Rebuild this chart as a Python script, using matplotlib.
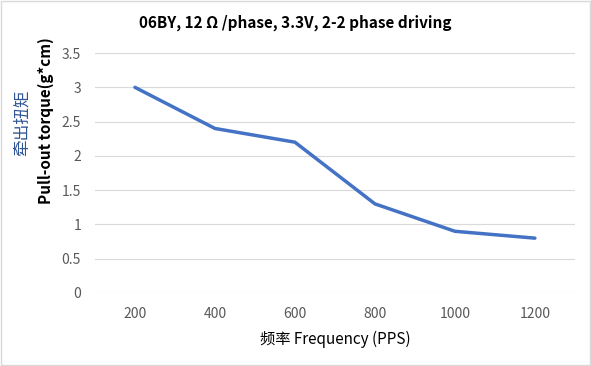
import matplotlib.pyplot as plt

plt.rcParams['font.family'] = ['Noto Sans CJK SC', 'DejaVu Sans']

freq = ['200', '400', '600', '800', '1000', '1200']
torque = [3.0, 2.4, 2.2, 1.3, 0.9, 0.8]
yticks = [0, 0.5, 1, 1.5, 2, 2.5, 3, 3.5]
ytick_labels = ['0', '0.5', '1', '1.5', '2', '2.5', '3', '3.5']

fig = plt.figure(figsize=(5.91, 3.66), dpi=100)
fig.patches.append(plt.Rectangle((0.001, 0.002), 0.997, 0.995, transform=fig.transFigure,
                                 fill=False, edgecolor='#d9d9d9', linewidth=1))
ax = fig.add_axes([0.1607, 0.1995, 0.812, 0.6555])

x = range(len(freq))
ax.plot(x, torque, color='#4472c4', linewidth=2.5, solid_capstyle='round')
ax.set_xlim(-0.5, len(freq) - 0.5)
ax.set_ylim(0, 3.5)
ax.set_xticks(list(x))
ax.set_xticklabels(freq)
ax.set_yticks(yticks)
ax.set_yticklabels(ytick_labels)
ax.grid(axis='y', color='#d9d9d9', linewidth=0.8)
ax.set_axisbelow(True)
for s in ax.spines.values():
    s.set_visible(False)
ax.tick_params(length=0, labelsize=10, labelcolor='#595959', pad=10)

fig.text(0.5, 0.938, '06BY, 12 Ω /phase, 3.3V, 2-2 phase driving',
         ha='center', va='center', fontsize=11, fontweight='bold')
fig.text(0.567, 0.074, '频率 Frequency (PPS)', ha='center', va='center', fontsize=11)
fig.text(0.038, 0.665, '牵出扭矩', rotation=90, ha='center', va='center',
         fontsize=12, color='#2f5597')
fig.text(0.077, 0.67, 'Pull-out torque(g*cm)', rotation=90, ha='center', va='center',
         fontsize=11, fontweight='bold')

fig.savefig('out.png', dpi=100)
